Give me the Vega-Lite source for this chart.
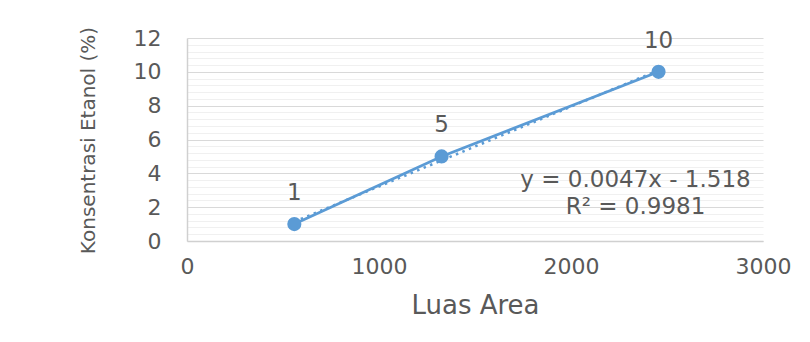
{
  "$schema": "https://vega.github.io/schema/vega-lite/v6.json",
  "width": 576,
  "height": 203,
  "autosize": {"type": "none"},
  "padding": {"left": 187, "top": 38, "right": 47, "bottom": 101},
  "background": "white",
  "config": {
    "view": {"stroke": null},
    "font": "DejaVu Sans"
  },
  "data": {
    "values": [
      {"area": 559, "konsentrasi": 1},
      {"area": 1326, "konsentrasi": 5},
      {"area": 2456, "konsentrasi": 10}
    ]
  },
  "encoding": {
    "x": {
      "field": "area",
      "type": "quantitative",
      "scale": {"domain": [0, 3000], "nice": false, "zero": false},
      "axis": {
        "title": "Luas Area",
        "values": [0, 1000, 2000, 3000],
        "format": "d",
        "grid": false,
        "ticks": false,
        "tickSize": 0,
        "domainColor": "#D0D0D0",
        "domainWidth": 1.5,
        "labelFont": "DejaVu Sans",
        "labelFontSize": 22,
        "labelColor": "#595959",
        "labelPadding": 15,
        "labelFlush": false,
        "labelOverlap": false,
        "titleFont": "DejaVu Sans",
        "titleFontSize": 26,
        "titleFontWeight": "normal",
        "titleColor": "#595959",
        "titleX": 288,
        "titleY": 64,
        "titleAlign": "center",
        "titleBaseline": "middle"
      }
    },
    "y": {
      "field": "konsentrasi",
      "type": "quantitative",
      "scale": {"domain": [0, 12], "nice": false, "zero": false},
      "axis": {
        "title": "Konsentrasi Etanol (%)",
        "values": [0, 0.4, 0.8, 1.2, 1.6, 2, 2.4, 2.8, 3.2, 3.6, 4, 4.4, 4.8, 5.2, 5.6, 6, 6.4, 6.8, 7.2, 7.6, 8, 8.4, 8.8, 9.2, 9.6, 10, 10.4, 10.8, 11.2, 11.6, 12],
        "labelExpr": "datum.value % 2 === 0 ? format(datum.value, 'd') : ''",
        "grid": true,
        "gridColor": {"condition": {"test": "datum.value % 2 === 0", "value": "#D9D9D9"}, "value": "#F0F0F0"},
        "gridWidth": 1.2,
        "ticks": false,
        "tickSize": 0,
        "domainColor": "#D0D0D0",
        "domainWidth": 1.5,
        "labelFont": "DejaVu Sans",
        "labelFontSize": 22,
        "labelColor": "#595959",
        "labelPadding": 26,
        "labelOverlap": false,
        "titleFont": "DejaVu Sans",
        "titleFontSize": 20,
        "titleFontWeight": "normal",
        "titleColor": "#595959",
        "titleAngle": -90,
        "titleX": -99,
        "titleY": 102,
        "titleAlign": "center",
        "titleBaseline": "middle"
      }
    }
  },
  "layer": [
    {
      "transform": [{"regression": "konsentrasi", "on": "area"}],
      "mark": {"type": "line", "color": "#5B9BD5", "strokeWidth": 2.5, "strokeDash": [2.5, 4.5]},
      "encoding": {}
    },
    {
      "mark": {"type": "line", "color": "#5B9BD5", "strokeWidth": 2.75},
      "encoding": {}
    },
    {
      "mark": {"type": "point", "filled": true, "opacity": 1, "color": "#5B9BD5", "size": 200},
      "encoding": {}
    },
    {
      "mark": {"type": "text", "dy": -31, "font": "DejaVu Sans", "fontSize": 23, "color": "#595959", "baseline": "middle", "align": "center"},
      "encoding": {"text": {"field": "konsentrasi", "type": "quantitative", "format": "d"}}
    },
    {
      "transform": [{"filter": "datum.konsentrasi === 10"}],
      "mark": {"type": "text", "text": "y = 0.0047x - 1.518", "font": "DejaVu Sans", "fontSize": 23, "color": "#595959", "align": "center", "baseline": "middle"},
      "encoding": {
        "x": {"datum": 2336, "type": "quantitative"},
        "y": {"datum": 3.58, "type": "quantitative"}
      }
    },
    {
      "transform": [{"filter": "datum.konsentrasi === 10"}],
      "mark": {"type": "text", "text": "R² = 0.9981", "font": "DejaVu Sans", "fontSize": 23, "color": "#595959", "align": "center", "baseline": "middle"},
      "encoding": {
        "x": {"datum": 2336, "type": "quantitative"},
        "y": {"datum": 2.0, "type": "quantitative"}
      }
    }
  ]
}
